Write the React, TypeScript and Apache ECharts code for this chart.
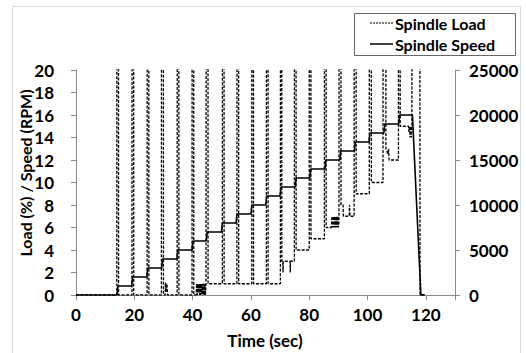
import React, { useEffect, useRef } from "react";
import * as echarts from "echarts";

// Spindle speed: step start times (sec) and RPM levels
const speedStepTimes = [14.1, 19.1, 24.3, 29.4, 34.6, 39.8, 44.7, 49.9, 54.9, 60.0, 65.1, 70.0, 75.2, 80.2, 85.4, 90.5, 95.5, 100.5, 105.6, 110.7];
const speedLevels = [1000, 2000, 3000, 4000, 5000, 6000, 7000, 8000, 9000, 10000, 11000, 12000, 13000, 14000, 15000, 16000, 17000, 18000, 19000, 20000];
const speedTail: [number, number][] = [[115.4, 20000], [118.3, 0], [119.7, 0]];

// Spindle load (%) samples [time, load]; spikes go far above the 20 % axis limit
const loadPoints: [number, number][] = [
  [0, 0], [14.0, 0], [14.1, 100], [14.5, 100], [14.6, 0],
  [19.2, 0], [19.3, 100], [19.7, 100], [19.8, 0],
  [24.4, 0], [24.5, 100], [24.9, 100], [25.0, 0],
  [29.3, 0], [29.4, 100], [29.9, 100], [30.0, 0], [30.6, 0], [30.7, 1.1], [31.0, 0.3], [31.2, 1], [31.4, 0],
  [34.7, 0], [34.8, 100], [35.2, 100], [35.3, 0],
  [39.8, 0], [39.9, 100], [40.3, 100], [40.4, 0], [41.2, 0], [41.4, 1], [41.6, 0], [41.8, 1], [42.0, 0.2], [42.2, 1], [42.4, 0], [42.6, 1], [42.8, 0], [43.0, 1], [43.2, 0.1], [43.4, 1], [43.6, 0], [43.8, 1], [44.0, 0], [44.2, 1], [44.4, 0], [44.6, 0.9],
  [44.8, 100], [45.2, 100], [45.3, 1],
  [50.2, 1], [50.3, 100], [50.7, 100], [50.8, 1],
  [55.2, 1], [55.3, 100], [55.7, 100], [55.8, 1],
  [60.3, 1], [60.4, 100], [60.8, 100], [60.9, 1],
  [65.3, 1], [65.4, 100], [65.8, 100], [65.9, 1],
  [70.1, 1], [70.2, 100], [70.5, 100], [70.6, 3], [70.9, 3], [71.0, 2], [71.1, 3], [73.4, 3], [73.5, 2], [73.6, 3],
  [74.9, 3], [75.0, 100], [75.4, 100], [75.5, 4],
  [80.0, 4], [80.1, 100], [80.5, 100], [80.6, 5],
  [85.2, 5], [85.3, 100], [85.7, 100], [85.8, 6], [87.6, 6], [87.8, 7], [88.0, 6], [88.2, 7], [88.4, 6], [88.6, 7], [88.8, 6], [89.0, 7], [89.2, 6], [89.4, 7], [89.6, 6], [89.8, 7], [90.0, 6], [90.2, 6.5],
  [90.4, 100], [90.8, 100], [90.9, 8], [91.6, 8], [91.7, 7], [93.7, 7], [93.8, 8], [94.0, 7],
  [95.4, 7], [95.5, 100], [96.0, 100], [96.1, 9],
  [100.6, 9], [100.7, 100], [101.2, 100], [101.3, 10],
  [105.3, 10], [105.4, 100], [106.2, 100], [106.3, 13], [107.0, 12.5], [107.2, 13], [107.4, 12],
  [110.6, 12], [110.7, 100], [111.1, 100], [111.2, 15], [114.1, 15], [114.2, 14.5], [114.4, 15], [114.6, 14], [114.8, 15], [115.0, 14], [115.2, 15],
  [115.5, 100], [117.8, 100], [118.0, 0], [119.7, 0],
];

const seriesNames = ["Spindle Load", "Spindle Speed"];
const xTicks = { min: 0, max: 130, interval: 20, lastLabel: 120 };
const loadAxis = { min: 0, max: 20, interval: 2 };
const speedAxis = { min: 0, max: 25000, interval: 5000 };

const FONT = "Lato";
const AXIS_COLOR = "#8a8a8a";
const LOAD_DASH = [3, 1.5];

export default function App() {
  const ref = useRef<HTMLDivElement>(null);
  useEffect(() => {
    if (!ref.current) return;
    const chart = echarts.init(ref.current, undefined, { renderer: "svg" });

    const speedData: [number, number][] = [[0, 0]];
    let prev = 0;
    speedStepTimes.forEach((t, i) => {
      speedData.push([t, prev]);
      speedData.push([t + 0.3, speedLevels[i]]);
      prev = speedLevels[i];
    });
    speedTail.forEach((p) => speedData.push(p));

    const labelStyle = { color: "#000", fontFamily: FONT, fontWeight: "bold" as const, fontSize: 17 };

    chart.setOption({
      animation: false,
      grid: { left: 76, right: 71, top: 70, bottom: 58 },
      xAxis: {
        type: "value",
        min: xTicks.min,
        max: xTicks.max,
        interval: xTicks.interval,
        axisLine: { show: true, lineStyle: { color: AXIS_COLOR } },
        axisTick: { show: true, length: 5, lineStyle: { color: AXIS_COLOR } },
        splitLine: { show: false },
        axisLabel: {
          ...labelStyle,
          margin: 11,
          formatter: (v: number) => (v > xTicks.lastLabel ? "" : String(v)),
        },
      },
      yAxis: [
        {
          type: "value",
          position: "left",
          min: loadAxis.min,
          max: loadAxis.max,
          interval: loadAxis.interval,
          axisLine: { show: true, lineStyle: { color: AXIS_COLOR } },
          axisTick: { show: true, length: 5, lineStyle: { color: AXIS_COLOR } },
          splitLine: { show: false },
          axisLabel: { ...labelStyle, margin: 22, formatter: (v: number) => String(v) },
        },
        {
          type: "value",
          position: "right",
          min: speedAxis.min,
          max: speedAxis.max,
          interval: speedAxis.interval,
          axisLine: { show: true, lineStyle: { color: AXIS_COLOR } },
          axisTick: { show: true, length: 5, lineStyle: { color: AXIS_COLOR } },
          splitLine: { show: false },
          axisLabel: { ...labelStyle, margin: 14, formatter: (v: number) => String(v) },
        },
      ],
      series: [
        {
          name: seriesNames[0],
          type: "line",
          yAxisIndex: 0,
          data: loadPoints,
          symbol: "none",
          clip: true,
          lineStyle: { color: "#000", width: 1.3, type: LOAD_DASH },
          z: 2,
        },
        {
          name: seriesNames[1],
          type: "line",
          yAxisIndex: 1,
          data: speedData,
          symbol: "none",
          clip: true,
          lineStyle: { color: "#000", width: 1.6, type: "solid" },
          z: 3,
        },
      ],
      graphic: [
        {
          type: "rect",
          shape: { x: 12.5, y: 6.5, width: 508, height: 350 },
          style: { fill: "none", stroke: "#d9d9d9", lineWidth: 1 },
          silent: true,
        },
        // legend box
        {
          type: "rect",
          shape: { x: 354.5, y: 13.5, width: 161, height: 42 },
          style: { fill: "#fff", stroke: "#666", lineWidth: 1 },
          z: 10,
        },
        {
          type: "line",
          shape: { x1: 370, y1: 23, x2: 393, y2: 23 },
          style: { stroke: "#000", lineWidth: 1.1, lineDash: [2, 1] },
          z: 11,
        },
        {
          type: "text",
          x: 395,
          y: 23,
          style: { text: seriesNames[0], fill: "#000", font: `bold 16px ${FONT}`, align: "left", verticalAlign: "middle" },
          z: 11,
        },
        {
          type: "line",
          shape: { x1: 370, y1: 44, x2: 393, y2: 44 },
          style: { stroke: "#000", lineWidth: 1.5 },
          z: 11,
        },
        {
          type: "text",
          x: 395,
          y: 44,
          style: { text: seriesNames[1], fill: "#000", font: `bold 16px ${FONT}`, align: "left", verticalAlign: "middle" },
          z: 11,
        },
        // axis titles
        {
          type: "text",
          x: 25,
          y: 173,
          rotation: Math.PI / 2,
          style: {
            text: "Load (%) / Speed (RPM)",
            fill: "#000",
            font: `bold 16px ${FONT}`,
            align: "center",
            verticalAlign: "middle",
          },
        },
        {
          type: "text",
          x: 265,
          y: 340,
          style: {
            text: "Time (sec)",
            fill: "#000",
            font: `bold 17px ${FONT}`,
            align: "center",
            verticalAlign: "middle",
          },
        },
      ],
    });
    return () => chart.dispose();
  }, []);
  return <div ref={ref} style={{ width: 526, height: 353, position: "absolute", left: 0, top: 0 }} />;
}
